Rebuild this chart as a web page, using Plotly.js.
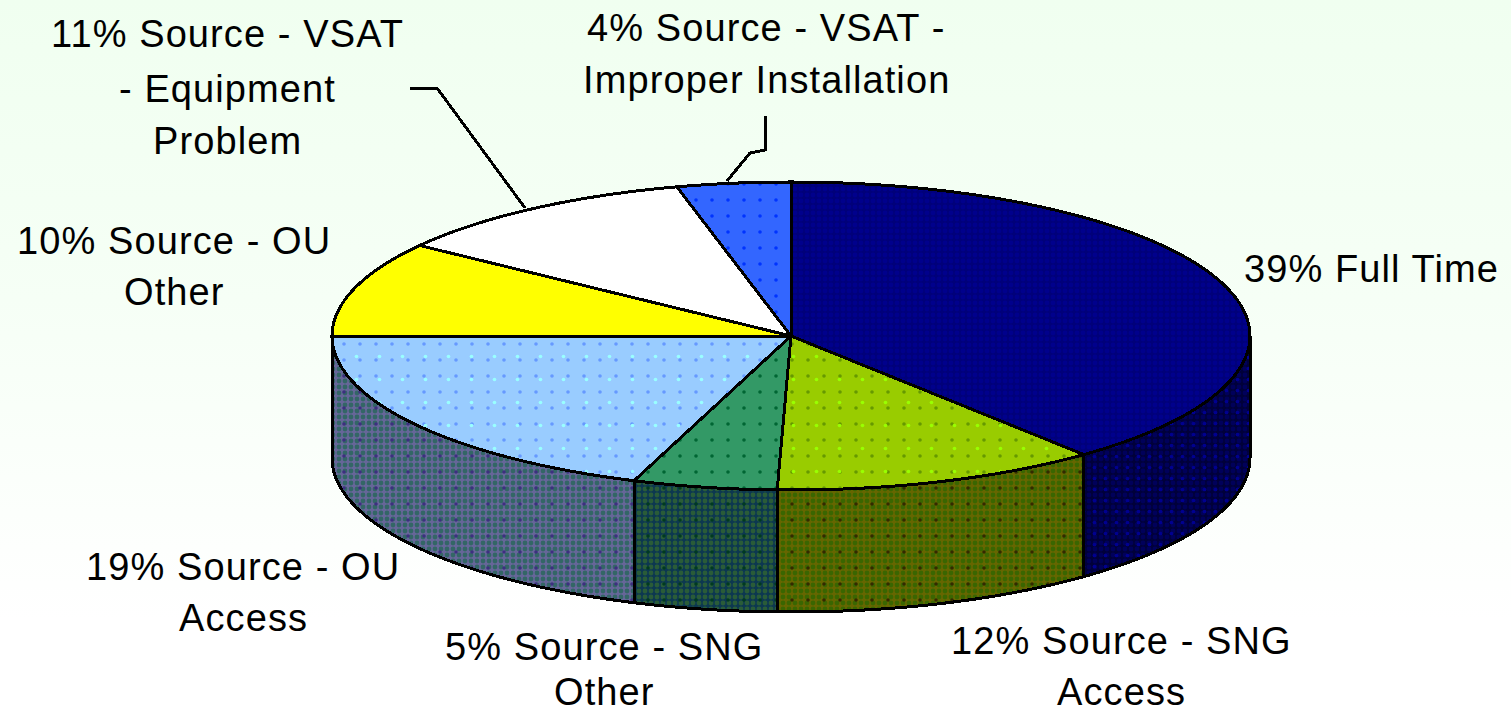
<!DOCTYPE html>
<html>
<head>
<meta charset="utf-8">
<script src="https://cdn.plot.ly/plotly-3.0.1.min.js"></script>
<style>
html,body{margin:0;padding:0;width:1511px;height:713px;overflow:hidden;background:linear-gradient(to bottom,#f0fff0 0px,#f6fff6 300px,#ffffff 620px);}
#chart{width:1511px;height:713px;}
.scatterlayer .js-line{shape-rendering:crispEdges;}
.annotation-text{letter-spacing:1.1px;}
</style>
</head>
<body>
<div id="chart"></div>
<script>
const sliceNames = ["Full Time","Source - SNG Access","Source - SNG Other","Source - OU Access","Source - OU Other","Source - VSAT - Equipment Problem","Source - VSAT - Improper Installation"];
const sliceValues = [39,12,5,19,10,11,4];
const topColors  = ["#00007a","#99cc00","#339966","#99ccff","#ffff00","#ffffff","#3366ff"];
const topDither  = ["#00008c",null,null,null,null,null,null];
const topDots    = [null,"#669900","#006633","#6699ff",null,null,"#0033ff"];
const topLights  = [null,"#99ff00",null,"#99ffff",null,null,null];
const sideColors = ["#00003a","#666600","#0c3850","#666699","#999900","#bbbbbb","#1f3d99"];
const sideDither = ["#00005a","#3a6600","#2a5c38","#336666",null,null,null];
const sideDots   = ["#000090","#332a00","#003a20","#3d2f80",null,null,null];
const labelLines = [
  ["39% Full Time"],
  ["12% Source - SNG","Access"],
  ["5% Source - SNG","Other"],
  ["19% Source - OU","Access"],
  ["10% Source - OU","Other"],
  ["11% Source - VSAT","- Equipment","Problem"],
  ["4% Source - VSAT -","Improper Installation"]
];
const labelX = [1371,1121,604,243,174,227,766];
const labelY = [[269],[641,692],[647,692],[567,618],[241,292],[34,89,141],[28,80]];
const leaderX = {5:[410,437,525],6:[765,765,750,727]};
const leaderY = {5:[88,88,208],6:[116,150,153,181]};

const cx=791, cy=336, rx=459, ry=154, depth=122;
const rad=d=>d*Math.PI/180;
// small view-dependent skew of the front rim, as in a tilted 3-D pie
const warp=t=>t-2*Math.exp(-Math.pow((t-190)/25,2));
const rim=(t,dy)=>{const w=rad(warp(t));return [cx+rx*Math.sin(w), cy-ry*Math.cos(w)+dy];};
const arc=(a,b,dy)=>{const pts=[];const n=Math.max(2,Math.ceil(Math.abs(b-a)));
  for(let i=0;i<=n;i++)pts.push(rim(a+(b-a)*i/n,dy));return pts;};
const clear='rgba(0,0,0,0)';
const face=(pts,fill,dither,dot,light,dotSize,dotSol)=>{
  const out=[];
  const base=(pattern,fc)=>({type:'scatter',mode:'lines',x:pts.map(p=>p[0]),y:pts.map(p=>p[1]),fill:'toself',
    fillcolor:fc,fillpattern:pattern,line:{color:clear,width:0,simplify:false},hoverinfo:'skip',showlegend:false});
  out.push(base(dither?{shape:'.',bgcolor:fill,fgcolor:dither,size:6,solidity:0.5,fgopacity:1}:{shape:''},fill));
  if(dot)out.push(base({shape:'.',bgcolor:clear,fgcolor:dot,size:dotSize,solidity:dotSol,fgopacity:1},clear));
  if(light)out.push(base({shape:'.',bgcolor:clear,fgcolor:light,size:23,solidity:0.02,fgopacity:1},clear));
  const edge=base({shape:''},clear);edge.line={color:'#000',width:3,simplify:false};
  out.push(edge);
  return out;
};

const total=sliceValues.reduce((a,b)=>a+b,0);
const traces=[], tops=[];
let acc=0;
sliceValues.forEach((v,i)=>{
  const a=acc/total*360, b=(acc+v)/total*360; acc+=v;
  const s=Math.max(a,90), e=Math.min(b,270);
  if(e>s){
    const pts=arc(s,e,0).concat(arc(e,s,depth));pts.push(pts[0]);
    traces.push(...face(pts,sideColors[i],sideDither[i],sideDots[i],null,i===0?11:16,i===0?0.09:0.04));
  }
  const pts=[[cx,cy]].concat(arc(a,b,0));pts.push([cx,cy]);
  tops.push(...face(pts,topColors[i],topDither[i],topDots[i],topLights[i],16,0.04));
});
const leaders=Object.keys(leaderX).map(k=>({type:'scatter',mode:'lines',x:leaderX[k],y:leaderY[k],
  line:{color:'#000',width:3},hoverinfo:'skip',showlegend:false}));

const annotations=[];
labelLines.forEach((lines,i)=>lines.forEach((t,j)=>annotations.push({
  x:labelX[i],y:labelY[i][j],xref:'x',yref:'y',text:t,showarrow:false,xanchor:'center',yanchor:'middle',
  font:{family:'"Liberation Sans",Arial,sans-serif',size:38,color:'#000'}})));

Plotly.newPlot('chart',traces.concat(tops,leaders),{
  width:1511,height:713,margin:{l:0,r:0,t:0,b:0,pad:0},
  paper_bgcolor:clear,plot_bgcolor:clear,
  xaxis:{range:[0,1511],visible:false,fixedrange:true},
  yaxis:{range:[713,0],visible:false,fixedrange:true},
  annotations:annotations,showlegend:false
},{displayModeBar:false,staticPlot:true});
</script>
</body>
</html>
